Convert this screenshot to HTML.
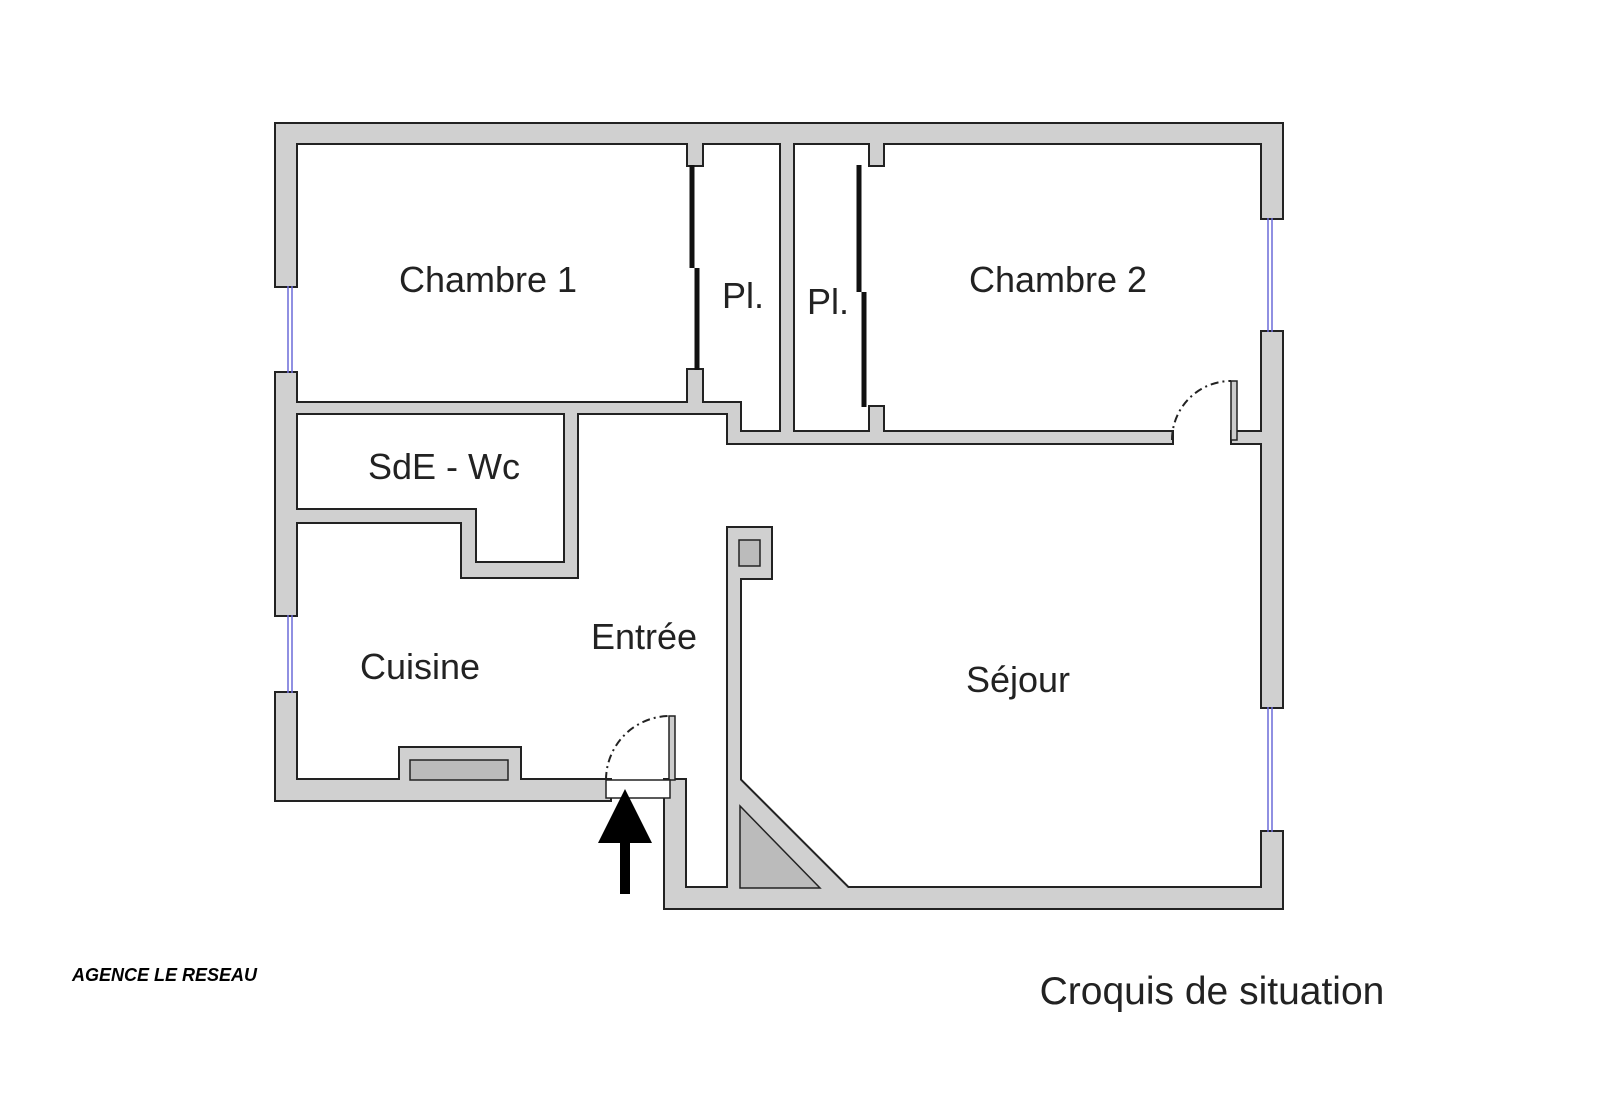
<!DOCTYPE html>
<html><head><style>body{margin:0;background:#fff}svg{display:block}</style></head><body>
<svg width="1600" height="1105" viewBox="0 0 1600 1105" xmlns="http://www.w3.org/2000/svg" font-family="Liberation Sans, sans-serif">
<rect width="1600" height="1105" fill="#fff"/>
<defs>
<g id="walls">
<rect x="276" y="124" width="1006" height="19"/>
<rect x="276" y="124" width="20" height="162"/>
<rect x="276" y="373" width="20" height="242"/>
<rect x="276" y="693" width="20" height="107"/>
<rect x="1262" y="124" width="20" height="94"/>
<rect x="1262" y="332" width="20" height="375"/>
<rect x="1262" y="832" width="20" height="76"/>
<rect x="276" y="780" width="334" height="20"/>
<rect x="665" y="780" width="20" height="128"/>
<rect x="665" y="888" width="617" height="20"/>
<rect x="276" y="403" width="464" height="10"/>
<rect x="728" y="403" width="12" height="40"/>
<rect x="728" y="432" width="444" height="11"/>
<rect x="1232" y="432" width="50" height="11"/>
<rect x="688" y="143" width="14" height="22"/>
<rect x="688" y="370" width="14" height="43"/>
<rect x="781" y="143" width="12" height="300"/>
<rect x="870" y="143" width="13" height="22"/>
<rect x="870" y="407" width="13" height="36"/>
<rect x="565" y="403" width="12" height="174"/>
<rect x="462" y="563" width="115" height="14"/>
<rect x="462" y="510" width="13" height="67"/>
<rect x="276" y="510" width="199" height="12"/>
<rect x="728" y="528" width="43" height="50"/>
<rect x="728" y="528" width="12" height="360"/>
<polygon points="728,780 740,780 848,888 728,888"/>
<rect x="400" y="748" width="120" height="40"/>
</g>
</defs>
<use href="#walls" fill="#d0d0d0" stroke="#222" stroke-width="4"/>
<use href="#walls" fill="#d0d0d0" stroke="none"/>
<rect x="739" y="540" width="21" height="26" fill="#bbb" stroke="#222" stroke-width="1.5"/>
<polygon points="740,806 740,888 820,888" fill="#bbb" stroke="#222" stroke-width="1.5"/>
<rect x="410" y="760" width="98" height="20" fill="#bbb" stroke="#222" stroke-width="1.5"/>
<g stroke="#6a6ad8" stroke-width="1.5">
<line x1="288" y1="286" x2="288" y2="373"/><line x1="292" y1="286" x2="292" y2="373"/>
<line x1="288" y1="615" x2="288" y2="693"/><line x1="292" y1="615" x2="292" y2="693"/>
<line x1="1268" y1="218" x2="1268" y2="332"/><line x1="1272" y1="218" x2="1272" y2="332"/>
<line x1="1268" y1="707" x2="1268" y2="832"/><line x1="1272" y1="707" x2="1272" y2="832"/>
</g>
<g stroke="#111" stroke-width="5">
<line x1="692" y1="165" x2="692" y2="268"/><line x1="697" y1="268" x2="697" y2="370"/>
<line x1="859" y1="165" x2="859" y2="292"/><line x1="864" y1="292" x2="864" y2="407"/>
</g>
<rect x="669" y="716" width="6" height="64" fill="#ccc" stroke="#222" stroke-width="1.5"/>
<path d="M606 780 A64 64 0 0 1 670 716" fill="none" stroke="#222" stroke-width="2" stroke-dasharray="8,4,2,4"/>
<rect x="606" y="780" width="64" height="18" fill="#fff" stroke="#222" stroke-width="1.5"/>
<rect x="1231" y="381" width="6" height="59" fill="#ccc" stroke="#222" stroke-width="1.5"/>
<path d="M1172 440 A59 59 0 0 1 1231 381" fill="none" stroke="#222" stroke-width="2" stroke-dasharray="8,4,2,4"/>
<polygon points="625,789 652,843 598,843" fill="#000"/>
<rect x="620" y="840" width="10" height="54" fill="#000"/>
<g fill="#222" font-size="36">
<text x="488" y="292" text-anchor="middle">Chambre 1</text>
<text x="1058" y="292" text-anchor="middle">Chambre 2</text>
<text x="743" y="308" text-anchor="middle">Pl.</text>
<text x="828" y="314" text-anchor="middle">Pl.</text>
<text x="444" y="479" text-anchor="middle">SdE - Wc</text>
<text x="420" y="679" text-anchor="middle">Cuisine</text>
<text x="644" y="649" text-anchor="middle">Entrée</text>
<text x="1018" y="692" text-anchor="middle">Séjour</text>
<text x="1212" y="1004" text-anchor="middle" font-size="39">Croquis de situation</text>
</g>
<text x="72" y="981" font-size="18" font-weight="bold" font-style="italic" fill="#000">AGENCE LE RESEAU</text>
</svg>
</body></html>
